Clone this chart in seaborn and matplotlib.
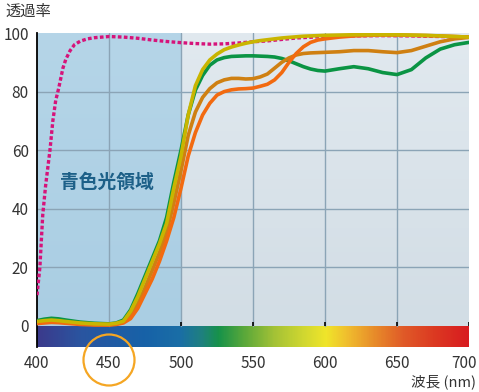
import numpy as np
import pandas as pd
import seaborn as sns
import matplotlib.pyplot as plt
from matplotlib.colors import LinearSegmentedColormap
from matplotlib.patches import Ellipse
from matplotlib.transforms import ScaledTranslation

# wavelength grid shared by the four lens curves
NM = [400, 405, 410, 415, 420, 430, 440, 450, 455, 460, 465, 470, 475, 480, 485, 490, 495,
      500, 505, 510, 515, 520, 525, 530, 535, 540, 545, 550, 555, 560, 565, 570, 575, 580,
      585, 590, 595, 600, 610, 620, 630, 640, 650, 660, 670, 680, 690, 700]

YELLOW = [1.5, 1.8, 2.0, 1.8, 1.5, 1.0, 0.7, 0.6, 0.9, 1.6, 5, 10, 16, 22, 28, 35, 47,
          58, 72, 82, 87.5, 90.8, 92.8, 94.3, 95.2, 95.9, 96.5, 97, 97.4, 97.7, 98, 98.3, 98.5, 98.7,
          98.9, 99, 99.1, 99.2, 99.3, 99.4, 99.4, 99.4, 99.4, 99.3, 99.2, 99, 98.8, 98.6]
GREEN = [1.8, 2.3, 2.6, 2.4, 2.0, 1.3, 0.9, 0.7, 1.0, 2.0, 5.5, 11, 17, 23, 29, 37, 49,
         60, 72, 80.5, 85.5, 89, 90.8, 91.6, 92, 92.1, 92.2, 92.2, 92.1, 92, 91.8, 91.3, 90.5, 89.5,
         88.5, 87.7, 87.2, 87, 87.8, 88.5, 87.8, 86.5, 85.8, 87.5, 91.5, 94.5, 96, 96.8]
DARK_ORANGE = [1.2, 1.5, 1.7, 1.5, 1.2, 0.8, 0.5, 0.4, 0.7, 1.3, 3.5, 7.5, 13, 19, 25, 32, 42,
               53, 65, 73, 78, 81, 83, 84, 84.5, 84.5, 84.3, 84.4, 85, 86, 88, 90, 91.5, 92.5,
               93, 93.2, 93.3, 93.4, 93.6, 94, 94, 93.6, 93.3, 94, 95.5, 97, 98, 98.5]
ORANGE = [0.8, 1.0, 1.2, 1.1, 0.9, 0.5, 0.3, 0.3, 0.5, 1.0, 2.5, 6, 11, 16, 22, 29, 37,
          47, 58, 66, 72, 76, 78.8, 80, 80.6, 80.9, 81, 81.2, 81.8, 82.5, 84, 86.5, 90, 93,
          95.3, 96.8, 97.6, 98, 98.6, 99, 99.2, 99.3, 99.3, 99.2, 99.1, 99, 98.8, 98.6]

# magenta dotted reference curve
MAG_NM = [400, 402, 404, 406, 409, 411, 413, 415, 418, 420, 423, 426, 430, 435, 440, 445, 450,
          460, 470, 480, 490, 500, 510, 520, 530, 540, 550, 560, 570, 580, 600, 620, 640, 660,
          680, 700]
MAGENTA = [10.5, 20, 38, 48, 60, 70, 77, 81, 88, 91, 94, 96, 97.2, 98, 98.4, 98.6, 98.8,
           98.6, 98.2, 97.6, 97.1, 96.7, 96.4, 96.2, 96.3, 96.6, 97, 97.3, 97.8, 98.3, 98.8, 99,
           99.1, 99, 98.8, 98.6]

XTICKS = [400, 450, 500, 550, 600, 650, 700]
YTICKS = [0, 20, 40, 60, 80, 100]

SPECTRUM = [(0.0, '#3b3a8c'), (0.10, '#2a55a0'), (0.25, '#1762a8'), (0.33, '#1a6ea6'),
            (0.38, '#1f8080'), (0.42, '#17924a'), (0.48, '#5aa83a'), (0.55, '#a4c236'),
            (0.62, '#d2d830'), (0.67, '#f0e52a'), (0.72, '#f0bd2e'), (0.78, '#e88e2a'),
            (0.85, '#e05a28'), (0.92, '#dc3a22'), (1.0, '#d81c20')]

sns.set_style('white')
plt.rcParams['font.family'] = ['Noto Sans CJK JP', 'DejaVu Sans']

fig = plt.figure(figsize=(4.79, 3.92), dpi=100)
ax = fig.add_axes([37 / 479, 45 / 392, 432 / 479, 314 / 392])
ymin = -7.2
ax.set_xlim(400, 700)
ax.set_ylim(ymin, 100)

# backgrounds
grad = np.linspace(0, 1, 100).reshape(-1, 1)
bg_cmap = LinearSegmentedColormap.from_list('bg', ['#e1e9ef', '#d2dde5'])
ax.imshow(grad, extent=[500, 700, 0, 100], aspect='auto', cmap=bg_cmap, origin='upper', zorder=0)
blue_cmap = LinearSegmentedColormap.from_list('bl', ['#b5d5e8', '#aacee3'])
ax.imshow(grad, extent=[400, 500, 0, 100], aspect='auto', cmap=blue_cmap, origin='upper', zorder=0)

spec_cmap = LinearSegmentedColormap.from_list('spec', SPECTRUM)
ax.imshow(np.linspace(0, 1, 600).reshape(1, -1), extent=[400, 700, ymin, -0.3],
          aspect='auto', cmap=spec_cmap, zorder=1)

for x in XTICKS[1:-1]:
    ax.axvline(x, ymin=(0 - ymin) / (100 - ymin), color='#8ba4b6', lw=1, zorder=1)
for y in YTICKS[1:-1]:
    ax.axhline(y, color='#8ba4b6', lw=1, zorder=1)
ax.vlines(XTICKS[2:], 0, 1.4, color='black', lw=1.2, zorder=2)

# curves
ax.plot(MAG_NM, MAGENTA, color='#d6137a', lw=2.4, linestyle=(0, (1.1, 0.7)), zorder=3)
df = pd.DataFrame({
    'nm': NM * 4,
    'value': GREEN + DARK_ORANGE + ORANGE + YELLOW,
    'lens': ['green'] * len(NM) + ['darkorange'] * len(NM) + ['orange'] * len(NM) + ['yellow'] * len(NM),
})
palette = {'green': '#0a9444', 'darkorange': '#cf8012', 'orange': '#f26a10', 'yellow': '#c9b500'}
sns.lineplot(data=df, x='nm', y='value', hue='lens', palette=palette, lw=2.6,
             legend=False, ax=ax, zorder=4, sort=False)

ax.set_xlabel('')
ax.set_ylabel('')
for s in ['top', 'right', 'bottom']:
    ax.spines[s].set_visible(False)
ax.spines['left'].set_color('black')
ax.spines['left'].set_linewidth(1.3)
ax.set_xticks(XTICKS)
ax.set_yticks(YTICKS)
ax.set_xticklabels([str(x) for x in XTICKS], fontsize=11, color='#333333')
ax.set_yticklabels([str(y) for y in YTICKS], fontsize=11, color='#333333')
ax.tick_params(axis='x', length=0, pad=6)
ax.tick_params(axis='y', length=0, pad=6)
ax.grid(False)
last = ax.get_xticklabels()[-1]
last.set_transform(last.get_transform() + ScaledTranslation(-0.045, 0, fig.dpi_scale_trans))

ax.text(448.5, 49, '青色光領域', color='#1d6088', fontsize=13.5, fontweight='bold',
        ha='center', va='center', zorder=5)

fig.text(5 / 479, 1 - 11 / 392, '透過率', fontsize=11, color='#333333', ha='left', va='center')
fig.text(476 / 479, 1 - 382 / 392, '波長 (nm)', fontsize=10.5, color='#333333', ha='right', va='center')
fig.patches.append(Ellipse((109 / 479, 1 - 360 / 392), 51 / 479, 51 / 392, fill=False,
                           edgecolor='#f5a623', lw=1.6, transform=fig.transFigure))

fig.savefig('out.png', dpi=100)
